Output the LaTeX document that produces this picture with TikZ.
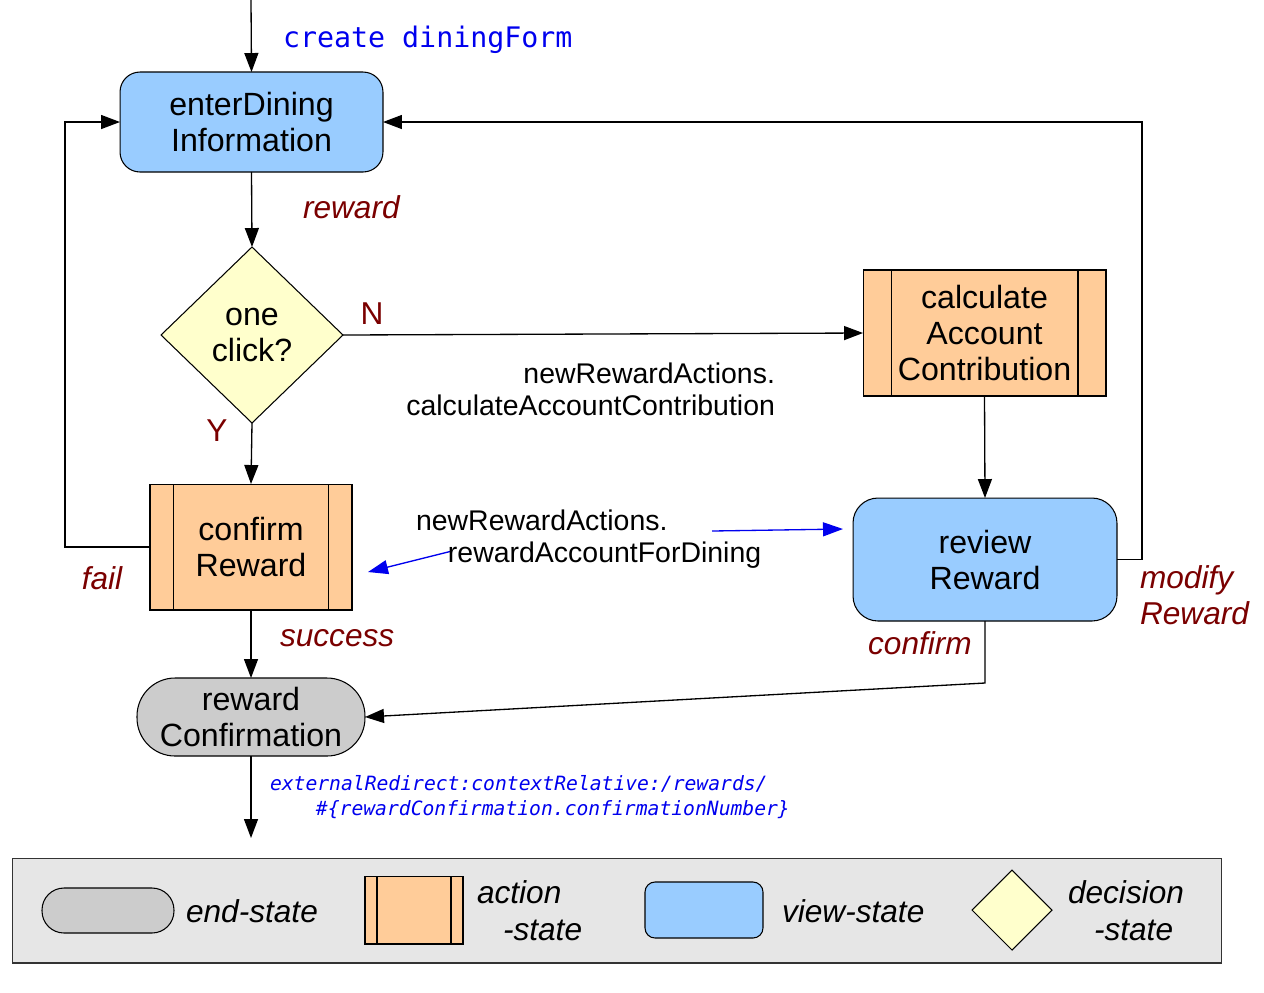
\documentclass[tikz,border=0pt]{standalone}
\usepackage{fontspec}
\setmainfont{Liberation Sans}
\newfontfamily\codefont{DejaVu Sans Mono}
\usetikzlibrary{shapes.geometric,arrows.meta,calc}
\definecolor{viewfill}{HTML}{99CCFF}
\definecolor{actfill}{HTML}{FFCC99}
\definecolor{decfill}{HTML}{FFFFCC}
\definecolor{endfill}{HTML}{CCCCCC}
\definecolor{legfill}{HTML}{E6E6E6}
\definecolor{lblred}{HTML}{7A0000}
\definecolor{codeblue}{HTML}{0000EE}
\begin{document}
\begin{tikzpicture}[x=0.02cm,y=-0.02cm,
  every node/.style={inner sep=0pt, outer sep=0pt},
  statefont/.style={font=\fontsize{18.3}{20.5}\selectfont, align=center},
  border/.style={draw=black, line width=0.6pt},
  viewstate/.style={statefont, border, fill=viewfill, rectangle, rounded corners=#1},
  actstate/.style={statefont, border, fill=actfill, rectangle,
    path picture={\draw[line width=0.6pt]
      ([xshift=#1]path picture bounding box.north west) -- ([xshift=#1]path picture bounding box.south west)
      ([xshift=-#1]path picture bounding box.north east) -- ([xshift=-#1]path picture bounding box.south east);}},
  decstate/.style={statefont, border, fill=decfill, diamond, aspect=1},
  endstate/.style={statefont, border, fill=endfill, rectangle, rounded corners=#1},
  conn/.style={line width=0.75pt, -{Triangle[length=0.38cm,width=0.28cm]}},
  bluearr/.style={draw=codeblue, line width=0.75pt, -{Triangle[length=0.4cm,width=0.28cm]}},
  lbl/.style={font=\fontsize{18}{20.5}\selectfont\itshape, text=lblred},
  yn/.style={font=\fontsize{18}{20.5}\selectfont, text=lblred},
  midtxt/.style={font=\fontsize{16.2}{18.2}\selectfont},
  legtxt/.style={font=\fontsize{18}{21}\selectfont\itshape, align=left},
]
\useasboundingbox (0,0) rectangle (1264,992);

% states
\node[viewstate=0.4cm, minimum width=5.26cm, minimum height=2.0cm] (enter) at (251.5,122) {enterDining\\Information};
\node[decstate, minimum width=3.64cm, minimum height=3.52cm] (dec) at (252,335) {one\\click?};
\node[actstate=0.56cm, minimum width=4.86cm, minimum height=2.52cm] (calc) at (984.5,333) {calculate\\Account\\Contribution};
\node[viewstate=0.5cm, minimum width=5.28cm, minimum height=2.46cm] (review) at (985,559.5) {review\\Reward};
\node[actstate=0.47cm, minimum width=4.04cm, minimum height=2.52cm] (confirmR) at (251,547) {confirm\\Reward};
\node[endstate=0.76cm, minimum width=4.56cm, minimum height=1.56cm] (rc) at (251,717) {reward\\Confirmation};

% helper coordinates
\coordinate (start) at (251,0);
\coordinate (modx) at (1142,0);
\coordinate (failx) at (65,0);
\coordinate (cbend) at (985,683);
\coordinate (exit) at (251,838);
\coordinate (b1s) at (712,531);
\coordinate (b1e) at (843,529);
\coordinate (b2s) at (452,551);
\coordinate (b2e) at (368,572);

% connectors
\draw[conn] (start) -- (enter.north);
\draw[conn] (enter.south) -- (dec.north);
\draw[conn] (dec.east) -- (calc.west);
\draw[conn] (calc.south) -- (review.north);
\draw[conn] (review.east) -- (review.east -| modx) |- (enter.east);
\draw[conn] (dec.south) -- (confirmR.north);
\draw[conn] (confirmR.west) -- (confirmR.west -| failx) |- (enter.west);
\draw[conn] (confirmR.south) -- (rc.north);
\draw[conn] (review.south) -- (cbend) -- (rc.east);
\draw[conn] (rc.south) -- (exit);
\draw[bluearr] (b1s) -- (b1e);
\draw[bluearr] (b2s) -- (b2e);

% labels
\node[anchor=west, text=codeblue, font=\codefont\fontsize{16.1}{19}\selectfont] (lcreate) at (283,40) {create diningForm};
\node[lbl, anchor=west] (lreward) at (303,207) {reward};
\node[yn] (lN) at (372,314) {N};
\node[yn] (lY) at (217,431) {Y};
\node[midtxt, align=right, anchor=east] (lcalc) at (775,389) {newRewardActions.\\calculateAccountContribution};
\node[midtxt, align=left, anchor=west] (lrwd) at (416,539) {newRewardActions.\\\hspace*{0.64cm}rewardAccountForDining};
\node[lbl] (lfail) at (102,578) {fail};
\node[lbl, anchor=west] (lsuccess) at (280,638) {success};
\node[lbl] (lconfirm) at (920,643) {confirm};
\node[lbl, anchor=west, align=left] (lmodify) at (1140,595) {modify\\Reward};
\node[anchor=west, align=left, text=codeblue, font=\codefont\itshape\fontsize{11.2}{14.2}\selectfont] (lredirect) at (270,797.5)
  {externalRedirect:contextRelative:/rewards/\\\hspace*{0.92cm}\#\{rewardConfirmation.confirmationNumber\}};

% legend
\node[draw=black!80, line width=0.6pt, fill=legfill, minimum width=24.2cm, minimum height=2.1cm] (legend) at (617,910.5) {};
\node[endstate=0.44cm, minimum width=2.64cm, minimum height=0.9cm] (le) at (108,910.5) {};
\node[legtxt, anchor=west] (lelbl) at (186,911) {end-state};
\node[actstate=0.24cm, minimum width=1.96cm, minimum height=1.36cm] (la) at (414,910) {};
\node[legtxt, anchor=west] (lalbl) at (477,910.5) {action\\\hspace*{0.52cm}-state};
\node[viewstate=0.2cm, minimum width=2.36cm, minimum height=1.12cm] (lv) at (704,910) {};
\node[legtxt, anchor=west] (lvlbl) at (782,911) {view-state};
\node[decstate, minimum width=1.6cm, minimum height=1.6cm] (ld) at (1012,910) {};
\node[legtxt, anchor=west] (ldlbl) at (1068,910.5) {decision\\\hspace*{0.52cm}-state};
\end{tikzpicture}
\end{document}
